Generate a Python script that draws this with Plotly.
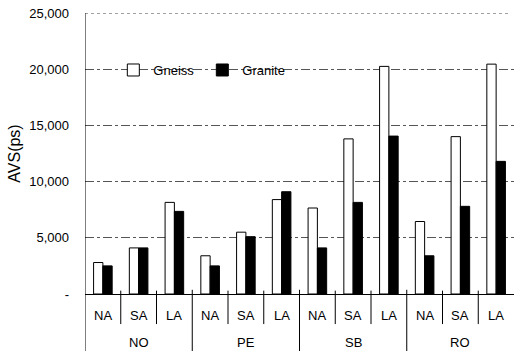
import plotly.graph_objects as go

groups = ["NO", "PE", "SB", "RO"]
subs = ["NA", "SA", "LA"]
gneiss = [2800, 4100, 8150, 3400, 5500, 8400, 7650, 13800, 20250, 6450, 14000, 20450]
granite = [2500, 4100, 7350, 2500, 5100, 9100, 4100, 8150, 14050, 3400, 7800, 11800]
y_tickvals = [0, 5000, 10000, 15000, 20000, 25000]
y_ticktext = ["-", "5,000", "10,000", "15,000", "20,000", "25,000"]

n = len(groups) * len(subs)
xpos = list(range(n))
sub_labels = [subs[i % len(subs)] for i in range(n)]

FONT = "Liberation Sans, Arial, sans-serif"

fig = go.Figure()
fig.add_trace(go.Bar(x=xpos, y=gneiss, name="Gneiss",
                     marker=dict(color="white", line=dict(color="black", width=1))))
fig.add_trace(go.Bar(x=xpos, y=granite, name="Granite",
                     marker=dict(color="black", line=dict(color="black", width=1))))

annotations = []
for i, s in enumerate(sub_labels):
    annotations.append(dict(x=i, y=-0.078, xref="x", yref="paper", text=s,
                            showarrow=False, yanchor="middle",
                            font=dict(family=FONT, size=13, color="black")))
for g_i, g in enumerate(groups):
    center = g_i * len(subs) + (len(subs) - 1) / 2
    annotations.append(dict(x=center, y=-0.174, xref="x", yref="paper", text=g,
                            showarrow=False, yanchor="middle",
                            font=dict(family=FONT, size=13, color="black")))

shapes = []
for i in range(1, n):
    b = i - 0.5
    if i % len(subs) == 0:
        shapes.append(dict(type="line", xref="x", yref="paper", x0=b, x1=b,
                           y0=0.015, y1=-0.205, line=dict(color="black", width=1)))
    else:
        shapes.append(dict(type="line", xref="x", yref="paper", x0=b, x1=b,
                           y0=0.012, y1=-0.107, line=dict(color="black", width=1)))
shapes.append(dict(type="line", xref="x", yref="paper", x0=-0.5, x1=-0.5,
                   y0=1, y1=-0.205, line=dict(color="black", width=1)))
shapes.append(dict(type="line", xref="paper", yref="y", x0=0, x1=0.993,
                   y0=y_tickvals[-1], y1=y_tickvals[-1],
                   line=dict(color="#444", width=1, dash="dot")))

fig.update_layout(
    width=514, height=351,
    margin=dict(l=85, r=0, t=13, b=57, autoexpand=False),
    paper_bgcolor="white", plot_bgcolor="white",
    barmode="group", bargap=0.48, bargroupgap=0,
    font=dict(family=FONT, size=13, color="black"),
    showlegend=True,
    legend=dict(orientation="h", x=0.066, y=0.797, xanchor="left", yanchor="middle",
                bgcolor="rgba(0,0,0,0)", font=dict(family=FONT, size=13),
                entrywidth=44, itemwidth=30),
    xaxis=dict(range=[-0.5, n - 0.5], showticklabels=False, showgrid=False,
               zeroline=False, showline=True, linecolor="black", linewidth=1,
               ticks="", automargin=False),
    yaxis=dict(range=[0, 25000], tickvals=y_tickvals, ticktext=y_ticktext,
               showgrid=True, gridcolor="#555", griddash="dashdot", gridwidth=1,
               zeroline=False, showline=False, ticks="", ticklabelstandoff=15,
               tickfont=dict(family=FONT, size=13), automargin=False,
               title=dict(text="AVS(ps)", font=dict(family=FONT, size=16), standoff=4)),
    annotations=annotations,
    shapes=shapes,
)

fig.write_html("out.html", config={"displayModeBar": False},
               post_script="document.body.style.margin='0';document.body.style.overflow='hidden';")
